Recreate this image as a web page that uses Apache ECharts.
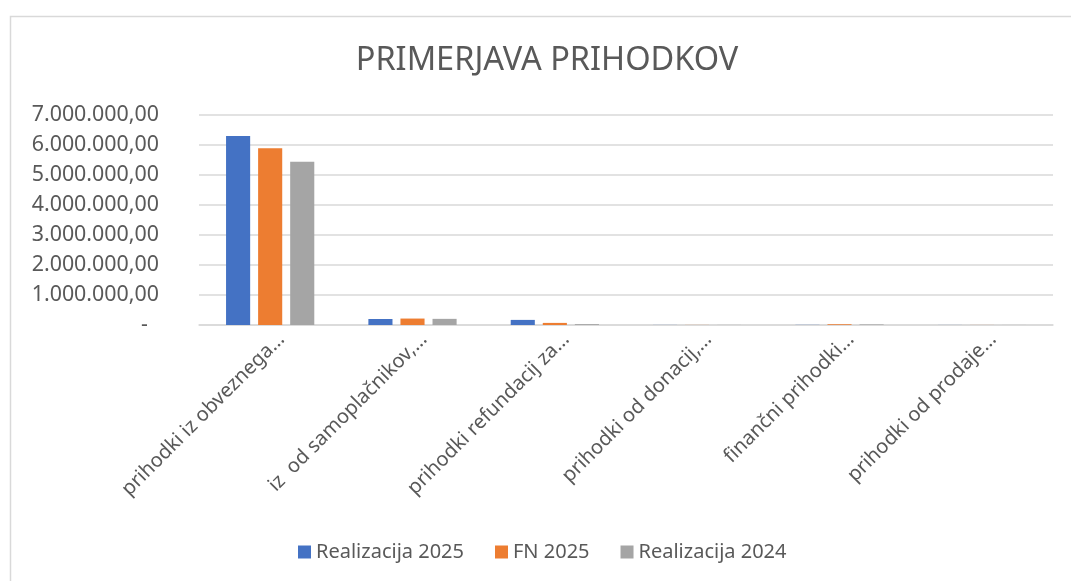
<!DOCTYPE html>
<html>
<head>
<meta charset="utf-8">
<script src="https://cdn.jsdelivr.net/npm/echarts@6/dist/echarts.min.js"></script>
<style>html,body{margin:0;padding:0;background:#fff}#c{width:1071px;height:581px}</style>
</head>
<body>
<div id="c"></div>
<script>
const categories = [
  "prihodki iz obveznega…",
  "iz  od samoplačnikov,…",
  "prihodki refundacij za…",
  "prihodki od donacij,…",
  "finančni prihodki…",
  "prihodki od prodaje…"
];
const seriesNames = ["Realizacija 2025", "FN 2025", "Realizacija 2024"];
const realizacija2025 = [6300000, 200000, 170000, 3000, 5000, 2000];
const fn2025 = [5890000, 215000, 70000, 3000, 25000, 2000];
const realizacija2024 = [5440000, 205000, 30000, 3000, 20000, 2000];
const yTicks = [0, 1000000, 2000000, 3000000, 4000000, 5000000, 6000000, 7000000];
const colors = ["#4472C4", "#ED7D31", "#A5A5A5"];

const FONT = "Noto Sans";
const TXT = "#595959";

function fmt(v) {
  if (v === 0) return "{d|-}";
  const s = String(Math.round(v));
  const parts = [];
  for (let i = s.length; i > 0; i -= 3) parts.unshift(s.slice(Math.max(0, i - 3), i));
  return parts.join(".") + ",00";
}

const chart = echarts.init(document.getElementById("c"), null, {renderer: "canvas"});
const data = [realizacija2025, fn2025, realizacija2024];
chart.setOption({
  animation: false,
  backgroundColor: "#fff",
  graphic: [{
    type: "rect",
    shape: {x: 10.5, y: 16.5, width: 1200, height: 800},
    style: {fill: "none", stroke: "#D9D9D9", lineWidth: 1.5},
    silent: true
  }],
  title: {
    text: "PRIMERJAVA PRIHODKOV",
    left: 542,
    textAlign: "center",
    top: 39,
    textStyle: {fontFamily: FONT, fontSize: 32.5, fontWeight: "normal", color: TXT}
  },
  legend: {
    data: seriesNames,
    left: 293,
    top: 537,
    icon: "rect",
    itemWidth: 13,
    itemHeight: 13,
    itemGap: 31,
    textStyle: {fontFamily: FONT, fontSize: 20, color: TXT}
  },
  grid: {left: 199, right: 18, top: 115, bottom: 256, containLabel: false},
  xAxis: {
    type: "category",
    data: categories,
    axisLine: {lineStyle: {color: "#D9D9D9", width: 1.5}},
    axisTick: {show: false},
    axisLabel: {
      rotate: 45,
      interval: 0,
      margin: 0,
      verticalAlign: "top",
      padding: [6, 0, 0, 0],
      fontFamily: FONT,
      fontSize: 20,
      color: TXT
    }
  },
  yAxis: {
    type: "value",
    min: 0,
    max: 7000000,
    interval: 1000000,
    axisLine: {show: false},
    axisTick: {show: false},
    splitLine: {lineStyle: {color: "#D9D9D9", width: 1.5}},
    axisLabel: {
      margin: 40,
      fontFamily: FONT,
      fontSize: 21.4,
      color: TXT,
      formatter: fmt,
      rich: {d: {fontFamily: FONT, fontSize: 21.4, color: TXT, padding: [0, 11, 0, 0]}}
    }
  },
  series: seriesNames.map((n, i) => ({
    name: n,
    type: "bar",
    data: data[i],
    barGap: "33%",
    barCategoryGap: "38%",
    itemStyle: {color: colors[i]}
  }))
});
</script>
</body>
</html>
